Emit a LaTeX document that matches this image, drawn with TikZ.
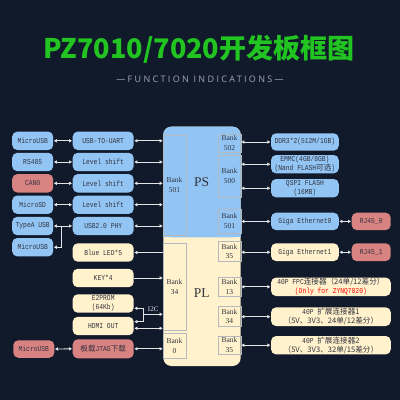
\documentclass[tikz,border=0pt]{standalone}
\usepackage{fontspec}
\setmainfont{Liberation Mono}[FakeStretch=0.83]
\newfontfamily\cjk{Noto Sans CJK SC}
\newfontfamily\titlefont{Noto Sans CJK SC}
\newfontfamily\bankfont{Liberation Serif}
\newfontfamily\subtitlefont{Open Sans}[LetterSpace=26]
\usepackage{xcolor}
\usetikzlibrary{calc}
\usetikzlibrary{arrows.meta}

\definecolor{bgnavy}{HTML}{111A2B}
\definecolor{boxblue}{HTML}{92C5F4}
\definecolor{boxcream}{HTML}{FFF2CC}
\definecolor{boxpink}{HTML}{D88282}
\definecolor{txtgray}{HTML}{33333F}
\definecolor{bankline}{HTML}{B4B9BF}
\definecolor{arrowgray}{HTML}{E2E4E8}
\definecolor{titlegreen}{HTML}{22C422}
\definecolor{subgray}{HTML}{A4A8AE}

\tikzset{
  blk/.style={rounded corners=5pt, minimum height=18.4pt, inner sep=0pt, align=center,
    text=txtgray, font=\fontsize{7.6}{8.8}\selectfont},
  leftw/.style={minimum width=41pt},
  midw/.style={minimum width=61pt},
  rightw/.style={minimum width=67.7pt},
  widew/.style={minimum width=119.7pt},
  rjw/.style={minimum width=39pt},
  bank/.style={draw=bankline, line width=0.4pt, inner sep=0pt, minimum width=22.4pt,
    align=center, text=txtgray, font=\bankfont\fontsize{7.5}{9.6}\selectfont},
  conn/.style={draw=arrowgray, line width=0.8pt, >={Triangle[length=3pt,width=3.2pt]},
    shorten <=0.5pt, shorten >=0.5pt},
}

\begin{document}
\begin{tikzpicture}[x=1pt, y=-1pt]
\fill[bgnavy] (0,0) rectangle (400,400);
\useasboundingbox (0,0) rectangle (400,400);

% title
\node[font=\titlefont\bfseries\fontsize{27}{30}\selectfont, text=titlegreen] (title) at (199,49) {PZ7010/7020开发板框图};
\node[font=\subtitlefont\fontsize{9}{10}\selectfont, text=subgray] (subtitle) at (200,79) {—FUNCTION INDICATIONS—};

% central PS / PL block
\fill[boxcream, rounded corners=8pt] (163.3,126.7) rectangle (240.7,366);
\fill[boxblue, rounded corners=8pt] (163.3,126.7) rectangle (240.7,237.3);
\fill[boxblue] (163.3,220) rectangle (240.7,237.3);
\node[font=\bankfont\fontsize{13.5}{14}\selectfont, text=txtgray] (ps) at (201.7,182) {PS};
\node[font=\bankfont\fontsize{13.5}{14}\selectfont, text=txtgray] (pl) at (201.7,293) {PL};

% banks
\node[bank, minimum height=100pt] (bk501l) at (174.5,185) {Bank\\501};
\node[bank, minimum height=18.3pt] (bk502) at (229.5,143.2) {Bank\\502};
\node[bank, minimum height=42.3pt] (bk500) at (229.5,176.2) {Bank\\500};
\node[bank, minimum height=23.4pt] (bk501r) at (229.5,221) {Bank\\501};
\node[bank, minimum height=86.7pt] (bk34l) at (174.5,286.7) {Bank\\34};
\node[bank, minimum height=25pt] (bk0) at (174.5,345.8) {Bank\\0};
\node[bank, minimum height=19.3pt] (bk35a) at (229.5,251.3) {Bank\\35};
\node[bank, minimum height=18.7pt] (bk13) at (229.5,286.7) {Bank\\13};
\node[bank, minimum height=19.3pt] (bk34r) at (229.5,316.3) {Bank\\34};
\node[bank, minimum height=18.6pt] (bk35b) at (229.5,345) {Bank\\35};

% left column
\node[blk, leftw, fill=boxblue] (musba) at (32.7,140.8) {MicroUSB};
\node[blk, leftw, fill=boxblue] (rs485) at (32.7,162) {RS485};
\node[blk, leftw, fill=boxpink] (can0) at (32.7,183.3) {CAN0};
\node[blk, leftw, fill=boxblue] (microsd) at (32.7,204.7) {MicroSD};
\node[blk, leftw, fill=boxblue] (typea) at (32.7,226) {TypeA USB};
\node[blk, leftw, fill=boxblue] (musbb) at (32.7,247.2) {MicroUSB};
\node[blk, leftw, fill=boxpink, minimum height=17.5pt] (musbc) at (33.8,349) {MicroUSB};

% middle column
\node[blk, midw, fill=boxblue] (uart) at (103.2,140.8) {USB-TO-UART};
\node[blk, midw, fill=boxblue] (lsa) at (103.2,162) {Level shift};
\node[blk, midw, fill=boxblue] (lsb) at (103.2,183.3) {Level shift};
\node[blk, midw, fill=boxblue] (lsc) at (103.2,204.7) {Level shift};
\node[blk, midw, fill=boxblue] (phy) at (103.2,226) {USB2.0 PHY};
\node[blk, midw, fill=boxcream] (led) at (103.2,252.5) {Blue LED*5};
\node[blk, midw, fill=boxcream] (key) at (103.2,278) {KEY*4};
\node[blk, midw, fill=boxcream] (eprom) at (103.2,303.5) {E2PROM\\(64Kb)};
\node[blk, midw, fill=boxcream] (hdmi) at (103.2,326) {HDMI OUT};
\node[blk, midw, fill=boxpink, minimum height=19pt] (jtag) at (103.2,348.8) {{\cjk 板载}JTAG{\cjk 下载}};

% right column
\node[blk, rightw, fill=boxblue, minimum height=17.4pt] (ddr) at (304.9,142) {DDR3*2(512M/1GB)};
\node[blk, rightw, fill=boxblue] (emmc) at (304.9,164.2) {EMMC(4GB/8GB)\\(Nand FLASH{\cjk 可选})};
\node[blk, rightw, fill=boxblue] (qspi) at (304.9,188.2) {QSPI FLASH\\(16MB)};
\node[blk, rightw, fill=boxblue, minimum height=17.4pt] (etha) at (304.9,221.4) {Giga Ethernet0};
\node[blk, rightw, fill=boxcream, minimum height=17.8pt] (ethb) at (304.9,252.2) {Giga Ethernet1};
\node[blk, rjw, fill=boxpink, minimum height=17.4pt] (rja) at (371.2,221.4) {RJ45\_0};
\node[blk, rjw, fill=boxpink, minimum height=17.8pt] (rjb) at (371.2,252.2) {RJ45\_1};
\node[blk, widew, fill=boxcream] (fpc) at (330.9,286.8) {40P FPC{\cjk 连接器（24单/12差分）}\\\textcolor{red}{(Only for ZYNQ7020)}};
\node[blk, widew, fill=boxcream, minimum height=18.7pt] (extone) at (330.9,316.7) {40P {\cjk 扩展连接器1}\\{\cjk （5V、3V3、24单/12差分）}};
\node[blk, widew, fill=boxcream] (exttwo) at (330.9,345.2) {40P {\cjk 扩展连接器2}\\{\cjk （5V、3V3、32单/15差分）}};

% left connectors
\draw[conn, <->] (musba.east) -- (uart.west);
\draw[conn, <->] (rs485.east) -- (lsa.west);
\draw[conn, <->] (can0.east) -- (lsb.west);
\draw[conn, <->] (microsd.east) -- (lsc.west);
\draw[conn, <->] (typea.east) -- (phy.west);
\coordinate (usbsplit) at ($(typea.east)!0.44!(phy.west)$);
\draw[conn, ->] (usbsplit) |- (musbb.east);
\draw[conn, <->] (musbc.east) -- (jtag.west);

\draw[conn, <->] (uart.east) -- (uart.east -| bk501l.west);
\draw[conn, <->] (lsa.east) -- (lsa.east -| bk501l.west);
\draw[conn, <->] (lsb.east) -- (lsb.east -| bk501l.west);
\draw[conn, <->] (lsc.east) -- (lsc.east -| bk501l.west);
\draw[conn, <->] (phy.east) -- (phy.east -| bk501l.west);
\draw[conn, <-] (led.east) -- (led.east -| bk34l.west);
\draw[conn, ->] (key.east) -- (key.east -| bk34l.west);
\coordinate (i2c) at (143.3,314.3);
\draw[conn, <->] ([yshift=-4.8pt]eprom.east) -| (i2c) |- ([yshift=4.3pt]hdmi.east);
\draw[conn, ->] (i2c) -- (i2c -| bk34l.west) node[midway, above=-0.5pt, text=arrowgray, font=\bankfont\fontsize{7}{8}\selectfont] {I2C};
\draw[conn, <->] ([yshift=-2.3pt]hdmi.east) -- ([yshift=-2.3pt]hdmi.east -| bk34l.west);
\draw[conn, <->] (jtag.east) -- (jtag.east -| bk0.west);

% right connectors
\draw[conn, <->] (ddr.west) -- (ddr.west -| bk502.east);
\draw[conn, <->] (emmc.west) -- (emmc.west -| bk500.east);
\draw[conn, <->] (qspi.west) -- (qspi.west -| bk500.east);
\draw[conn, <->] (etha.west) -- (etha.west -| bk501r.east);
\draw[conn, <->] (ethb.west) -- (ethb.west -| bk35a.east);
\draw[conn, <->] (fpc.west) -- (fpc.west -| bk13.east);
\draw[conn, <->] (extone.west) -- (extone.west -| bk34r.east);
\draw[conn, <->] (exttwo.west) -- (exttwo.west -| bk35b.east);
\draw[conn, <->] (etha.east) -- (rja.west);
\draw[conn, <->] (ethb.east) -- (rjb.west);

\end{tikzpicture}
\end{document}
